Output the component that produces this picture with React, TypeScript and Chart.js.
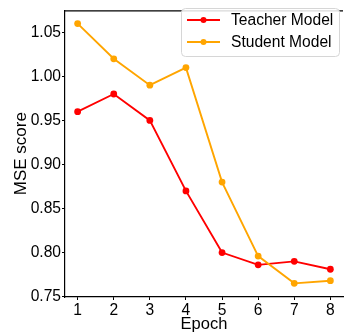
import React, { useEffect, useRef } from 'react';
import { Chart, registerables } from 'chart.js';

Chart.register(...registerables);

const epochs = [1, 2, 3, 4, 5, 6, 7, 8];
const teacherMSE = [0.96, 0.98, 0.95, 0.87, 0.8, 0.786, 0.79, 0.781];
const studentMSE = [1.06, 1.02, 0.99, 1.01, 0.88, 0.796, 0.765, 0.768];
const yTicks = [0.75, 0.8, 0.85, 0.9, 0.95, 1.0, 1.05];
const seriesNames = ['Teacher Model', 'Student Model'];
const seriesColors = ['#ff0000', '#ffa500'];

const FONT = "'Liberation Sans', Arial, sans-serif";

const boxLegend = {
  id: 'boxLegend',
  afterDraw(chart: any) {
    const ctx = chart.ctx;
    const ca = chart.chartArea;
    ctx.save();
    // top frame line
    ctx.strokeStyle = '#000';
    ctx.lineWidth = 1.2;
    ctx.beginPath();
    ctx.moveTo(ca.left, ca.top + 0.5);
    ctx.lineTo(ca.right, ca.top + 0.5);
    ctx.stroke();

    const x = 181.5, y = 8.5, w = 158, h = 48, r = 4;
    ctx.beginPath();
    ctx.roundRect(x, y, w, h, r);
    ctx.fillStyle = 'rgba(255,255,255,0.85)';
    ctx.fill();
    ctx.strokeStyle = '#d6d6d6';
    ctx.lineWidth = 1;
    ctx.stroke();

    const rowsY = [20, 42];
    chart.data.datasets.forEach((ds: any, i: number) => {
      const yy = rowsY[i];
      ctx.strokeStyle = ds.borderColor;
      ctx.lineWidth = 1.8;
      ctx.beginPath();
      ctx.moveTo(187, yy);
      ctx.lineTo(220, yy);
      ctx.stroke();
      ctx.fillStyle = ds.borderColor;
      ctx.beginPath();
      ctx.arc(203.5, yy, 3, 0, Math.PI * 2);
      ctx.fill();
      ctx.fillStyle = '#000';
      ctx.font = `15.6px ${FONT}`;
      ctx.textBaseline = 'middle';
      ctx.textAlign = 'left';
      ctx.fillText(ds.label, 231, yy + 0.5);
    });
    ctx.restore();
  },
};

export default function App() {
  const ref = useRef<HTMLCanvasElement>(null);

  useEffect(() => {
    if (!ref.current) return;
    const series = [teacherMSE, studentMSE];
    const chart = new Chart(ref.current, {
      type: 'line',
      data: {
        datasets: series.map((vals, i) => ({
          label: seriesNames[i],
          data: vals.map((v, j) => ({ x: epochs[j], y: v })),
          borderColor: seriesColors[i],
          backgroundColor: seriesColors[i],
          pointBackgroundColor: seriesColors[i],
          pointBorderColor: seriesColors[i],
          pointRadius: 3.4,
          pointBorderWidth: 0,
          borderWidth: 1.9,
          tension: 0,
          fill: false,
          order: i === 0 ? 1 : 0,
        })),
      },
      options: {
        animation: false,
        responsive: false,
        devicePixelRatio: 1,
        layout: { padding: 0 },
        plugins: {
          legend: { display: false },
          tooltip: { enabled: false },
        },
        scales: {
          x: {
            type: 'linear',
            min: 0.65,
            max: 8.35,
            afterBuildTicks: (s: any) => {
              s.ticks = epochs.map((v) => ({ value: v }));
            },
            afterFit: (s: any) => {
              s.height = 37;
            },
            grid: { drawOnChartArea: false, drawTicks: true, tickLength: 3, color: '#000', lineWidth: 1 },
            border: { display: true, color: '#000', width: 1.2 },
            ticks: {
              color: '#000',
              font: { family: FONT, size: 15.6 },
              padding: 1.5,
              maxRotation: 0,
              autoSkip: false,
              callback: (v: any) => String(v),
            },
            title: {
              display: true,
              text: 'Epoch',
              color: '#000',
              font: { family: FONT, size: 16.5 },
              padding: { top: 0, bottom: 0 },
            },
          },
          y: {
            type: 'linear',
            min: 0.7495,
            max: 1.075,
            afterBuildTicks: (s: any) => {
              s.ticks = yTicks.map((v) => ({ value: v }));
            },
            afterFit: (s: any) => {
              s.width = 65;
            },
            grid: { drawOnChartArea: false, drawTicks: true, tickLength: 3, color: '#000', lineWidth: 1 },
            border: { display: true, color: '#000', width: 1.2 },
            ticks: {
              color: '#000',
              font: { family: FONT, size: 15.6 },
              padding: 1,
              callback: (v: any) => Number(v).toFixed(2),
            },
            title: {
              display: true,
              text: 'MSE score',
              color: '#000',
              font: { family: FONT, size: 17 },
              padding: { top: 11, bottom: 0 },
            },
          },
        },
      },
      plugins: [boxLegend],
    });
    return () => chart.destroy();
  }, []);

  return (
    <div style={{ position: 'fixed', left: 0, top: 0, width: 344, height: 334, overflow: 'hidden', background: '#fff' }}>
      <canvas ref={ref} width={347} height={334} style={{ display: 'block', width: 347, height: 334 }} />
    </div>
  );
}
